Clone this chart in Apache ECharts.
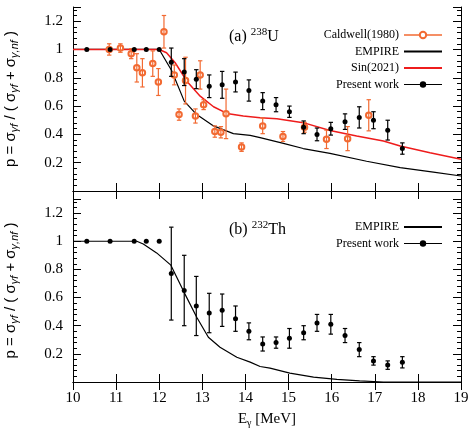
<!DOCTYPE html>
<html lang="en">
<head>
    <meta charset="utf-8">
    <title>fission probability</title>
    <script src="https://cdn.jsdelivr.net/npm/echarts@6/dist/echarts.min.js"></script>
    <style>
        html, body { margin: 0; padding: 0; background: #fff; }
        #chart { width: 470px; height: 434px; }
    </style>
</head>
<body>
<div id="chart"></div>
<script type="text/javascript">
    // (a) 238U - present work
    var uE   = [10.32, 10.86, 11.42, 11.70, 12.00, 12.28, 12.58, 12.86, 13.16, 13.46, 13.77, 14.08, 14.40, 14.71, 15.02, 15.35, 15.66, 15.98, 16.31, 16.64, 16.97, 17.30, 17.64];
    var uP   = [1.00, 1.00, 1.00, 1.00, 1.00, 0.91, 0.84, 0.79, 0.74, 0.75, 0.77, 0.71, 0.635, 0.61, 0.56, 0.45, 0.40, 0.44, 0.49, 0.52, 0.50, 0.43, 0.30];
    var uErr = [0, 0, 0, 0, 0, 0.10, 0.095, 0.067, 0.08, 0.095, 0.07, 0.075, 0.06, 0.05, 0.04, 0.045, 0.045, 0.045, 0.055, 0.075, 0.06, 0.07, 0.04];

    // Caldwell(1980)
    var calE   = [10.84, 11.10, 11.35, 11.48, 11.61, 11.85, 11.98, 12.11, 12.35, 12.46, 12.61, 12.84, 12.95, 13.03, 13.29, 13.43, 13.55, 13.91, 14.40, 14.87, 15.37, 15.88, 16.37, 16.86];
    var calP   = [1.00, 1.01, 0.97, 0.87, 0.835, 0.90, 0.77, 1.125, 0.82, 0.54, 0.78, 0.53, 0.82, 0.61, 0.42, 0.415, 0.545, 0.31, 0.46, 0.385, 0.45, 0.365, 0.37, 0.535];
    var calErr = [0.04, 0.03, 0.035, 0.10, 0.10, 0.09, 0.095, 0.115, 0.07, 0.04, 0.165, 0.05, 0.10, 0.035, 0.04, 0.04, 0.175, 0.03, 0.055, 0.035, 0.035, 0.065, 0.085, 0.11];

    // EMPIRE for 238U
    var empUE = [10.0, 12.0, 12.29, 12.58, 12.87, 13.26, 13.72, 14.11, 14.34, 14.88, 15.34, 15.96, 16.81, 17.59, 18.36, 19.0];
    var empUP = [1.0, 1.0, 0.85, 0.635, 0.54, 0.46, 0.405, 0.393, 0.377, 0.337, 0.30, 0.266, 0.21, 0.165, 0.134, 0.106];

    // Sin(2021)
    var sinE = [10.0, 12.0, 12.17, 12.37, 12.64, 12.95, 13.26, 13.57, 13.95, 14.34, 14.73, 15.34, 15.96, 16.58, 17.2, 17.59, 18.28, 19.0];
    var sinP = [1.0, 1.0, 0.977, 0.906, 0.776, 0.67, 0.595, 0.548, 0.53, 0.518, 0.511, 0.483, 0.428, 0.388, 0.353, 0.318, 0.271, 0.224];

    // (b) 232Th - present work
    var thE   = [10.32, 10.86, 11.42, 11.70, 12.00, 12.28, 12.58, 12.86, 13.16, 13.46, 13.77, 14.08, 14.40, 14.71, 15.02, 15.35, 15.66, 15.98, 16.31, 16.64, 16.97, 17.30, 17.64];
    var thP   = [1.00, 1.00, 1.00, 1.00, 1.00, 0.77, 0.65, 0.54, 0.49, 0.51, 0.45, 0.36, 0.27, 0.28, 0.31, 0.35, 0.42, 0.41, 0.33, 0.23, 0.15, 0.12, 0.14];
    var thErr = [0, 0, 0, 0, 0, 0.33, 0.25, 0.21, 0.14, 0.115, 0.09, 0.06, 0.05, 0.04, 0.07, 0.05, 0.06, 0.07, 0.05, 0.05, 0.03, 0.03, 0.04];

    // EMPIRE for 232Th
    var empThE = [10.0, 11.48, 11.63, 11.94, 12.27, 12.58, 12.87, 13.14, 13.41, 13.80, 14.11, 14.34, 14.57, 15.03, 15.58, 16.12, 16.65, 17.2, 19.0];
    var empThP = [1.0, 1.0, 0.98, 0.917, 0.83, 0.635, 0.46, 0.318, 0.247, 0.176, 0.141, 0.11, 0.099, 0.063, 0.035, 0.018, 0.008, 0.0, 0.0];

    // tick labels
    var xTicks = [10, 11, 12, 13, 14, 15, 16, 17, 18, 19];
    var yTicks = [0.2, 0.4, 0.6, 0.8, 1, 1.2];

    var ORANGE = '#f26a32';
    var RED = '#ee1c1c';
    var SERIF = 'Liberation Serif';

    function pairs(xs, ys) {
        var out = [];
        for (var i = 0; i < xs.length; i++) out.push([xs[i], ys[i]]);
        return out;
    }
    function triples(xs, ys, es) {
        var out = [];
        for (var i = 0; i < xs.length; i++) out.push([xs[i], ys[i], es[i]]);
        return out;
    }

    // error bars with small caps
    function errRender(color) {
        return function (params, api) {
            var x = api.value(0), y = api.value(1), e = api.value(2);
            if (!e) return;
            var lo = api.coord([x, y - e]);
            var hi = api.coord([x, y + e]);
            var cap = 2.2;
            var st = { stroke: color, lineWidth: 1.2 };
            return {
                type: 'group',
                children: [
                    { type: 'line', shape: { x1: lo[0], y1: lo[1], x2: hi[0], y2: hi[1] }, style: st },
                    { type: 'line', shape: { x1: lo[0] - cap, y1: lo[1], x2: lo[0] + cap, y2: lo[1] }, style: st },
                    { type: 'line', shape: { x1: hi[0] - cap, y1: hi[1], x2: hi[0] + cap, y2: hi[1] }, style: st }
                ]
            };
        };
    }

    function xAx(grid, pos, labels) {
        return {
            type: 'value', gridIndex: grid, position: pos, min: 10, max: 19, interval: 1,
            axisLine: { lineStyle: { color: '#000', width: 1 } },
            axisTick: { inside: true, length: 8, lineStyle: { color: '#000' } },
            axisLabel: {
                show: labels, margin: 9, color: '#000', fontFamily: SERIF, fontSize: 15,
                formatter: function (v) { return xTicks.indexOf(v) >= 0 ? String(v) : ''; }
            },
            splitLine: { show: false },
            name: labels ? '{m|E}{s|γ}{m| [MeV]}' : '',
            nameLocation: 'middle', nameGap: 28,
            nameTextStyle: {
                color: '#000',
                rich: {
                    m: { fontFamily: SERIF, fontSize: 15, color: '#000', lineHeight: 18 },
                    s: { fontFamily: SERIF, fontSize: 10, color: '#000', verticalAlign: 'bottom', lineHeight: 12 }
                }
            }
        };
    }
    function yAx(grid, pos, labels) {
        return {
            type: 'value', gridIndex: grid, position: pos, min: 0, max: 1.3, interval: 0.2,
            axisLine: { show: true, lineStyle: { color: '#000', width: 1 } },
            axisTick: { inside: true, length: 8, lineStyle: { color: '#000' } },
            minorTick: { show: true, splitNumber: 5, length: 4, lineStyle: { color: '#000' } },
            axisLabel: {
                show: labels, margin: 10, color: '#000', fontFamily: SERIF, fontSize: 15,
                showMinLabel: false, showMaxLabel: false,
                formatter: function (v) {
                    var r = Math.round(v * 10) / 10;
                    return yTicks.indexOf(r) >= 0 ? String(r) : '';
                }
            },
            splitLine: { show: false },
            name: labels ? '{m|p = σ}{s|γf}{m| / ( σ}{s|γf}{m| + σ}{s|γ,nf}{m| )}' : '',
            nameLocation: 'middle', nameGap: 53, nameRotate: 90,
            nameTextStyle: {
                rich: {
                    m: { fontFamily: 'Liberation Sans', fontSize: 15, color: '#000', lineHeight: 18 },
                    s: { fontFamily: 'Liberation Sans', fontSize: 11, fontStyle: 'italic', color: '#000', verticalAlign: 'bottom', lineHeight: 11 }
                }
            }
        };
    }

    var legendText = { fontFamily: SERIF, fontSize: 12, color: '#000' };
    var noSymbol = { opacity: 0 };

    var option = {
        animation: false,
        backgroundColor: '#fff',
        grid: [
            { left: 73, right: 9, top: 7, height: 184, outerBoundsMode: 'none', containLabel: false },
            { left: 73, right: 9, top: 199, height: 183, outerBoundsMode: 'none', containLabel: false }
        ],
        xAxis: [xAx(0, 'bottom', false), xAx(0, 'top', false), xAx(1, 'bottom', true), xAx(1, 'top', false)],
        yAxis: [yAx(0, 'left', true), yAx(0, 'right', false), yAx(1, 'left', true), yAx(1, 'right', false)],
        legend: [
            {
                top: 24, right: 22, orient: 'vertical', align: 'right',
                itemWidth: 38, itemHeight: 8, itemGap: 4.5, textStyle: legendText,
                data: [
                    { name: 'Caldwell(1980)', lineStyle: { width: 1.5, color: ORANGE, opacity: 1 } },
                    { name: 'EMPIRE', itemStyle: noSymbol },
                    { name: 'Sin(2021)', itemStyle: noSymbol },
                    { name: 'Present work', lineStyle: { width: 1.2, color: '#000', opacity: 1 } }
                ]
            },
            {
                top: 216, right: 22, orient: 'vertical', align: 'right',
                itemWidth: 38, itemHeight: 8, itemGap: 4.5, textStyle: legendText,
                data: [
                    { name: 'EMPIRE', itemStyle: noSymbol },
                    { name: 'Present work', lineStyle: { width: 1.2, color: '#000', opacity: 1 } }
                ]
            }
        ],
        graphic: [
            {
                type: 'text', left: 229, top: 27,
                style: {
                    text: '{m|(a) }{s|238}{m|U}',
                    rich: {
                        m: { fontFamily: SERIF, fontSize: 16, fill: '#000', lineHeight: 20 },
                        s: { fontFamily: SERIF, fontSize: 11, fill: '#000', verticalAlign: 'top', lineHeight: 13 }
                    }
                }
            },
            {
                type: 'text', left: 229, top: 220,
                style: {
                    text: '{m|(b) }{s|232}{m|Th}',
                    rich: {
                        m: { fontFamily: SERIF, fontSize: 16, fill: '#000', lineHeight: 20 },
                        s: { fontFamily: SERIF, fontSize: 11, fill: '#000', verticalAlign: 'top', lineHeight: 13 }
                    }
                }
            }
        ],
        series: [
            {
                name: 'EMPIRE', type: 'line', xAxisIndex: 0, yAxisIndex: 0,
                data: pairs(empUE, empUP), symbol: 'none', color: '#000',
                lineStyle: { color: '#000', width: 1.2 }, z: 2
            },
            {
                name: 'Sin(2021)', type: 'line', xAxisIndex: 0, yAxisIndex: 0,
                data: pairs(sinE, sinP), symbol: 'none', color: RED,
                lineStyle: { color: RED, width: 1.5 }, z: 3
            },
            {
                name: 'Caldwell(1980)', type: 'line', xAxisIndex: 0, yAxisIndex: 0,
                data: pairs(calE, calP), symbol: 'emptyCircle', symbolSize: 5.5, color: ORANGE,
                itemStyle: { borderColor: ORANGE, borderWidth: 1.3 },
                lineStyle: { width: 0, opacity: 0 }, z: 4
            },
            {
                name: 'calErr', type: 'custom', xAxisIndex: 0, yAxisIndex: 0,
                data: triples(calE, calP, calErr), renderItem: errRender(ORANGE), z: 5, silent: true
            },
            {
                name: 'Present work', type: 'line', xAxisIndex: 0, yAxisIndex: 0,
                data: pairs(uE, uP), symbol: 'circle', symbolSize: 5, color: '#000',
                lineStyle: { width: 0, opacity: 0 }, z: 6
            },
            {
                name: 'uErr', type: 'custom', xAxisIndex: 0, yAxisIndex: 0,
                data: triples(uE, uP, uErr), renderItem: errRender('#000'), z: 6, silent: true
            },
            {
                name: 'EMPIRE', type: 'line', xAxisIndex: 2, yAxisIndex: 2,
                data: pairs(empThE, empThP), symbol: 'none', color: '#000',
                lineStyle: { color: '#000', width: 1.2 }, z: 2
            },
            {
                name: 'Present work', type: 'line', xAxisIndex: 2, yAxisIndex: 2,
                data: pairs(thE, thP), symbol: 'circle', symbolSize: 5, color: '#000',
                lineStyle: { width: 0, opacity: 0 }, z: 6
            },
            {
                name: 'thErr', type: 'custom', xAxisIndex: 2, yAxisIndex: 2,
                data: triples(thE, thP, thErr), renderItem: errRender('#000'), z: 6, silent: true
            }
        ]
    };

    var chart = echarts.init(document.getElementById('chart'), null, { renderer: 'canvas' });
    chart.setOption(option);
</script>
</body>
</html>
